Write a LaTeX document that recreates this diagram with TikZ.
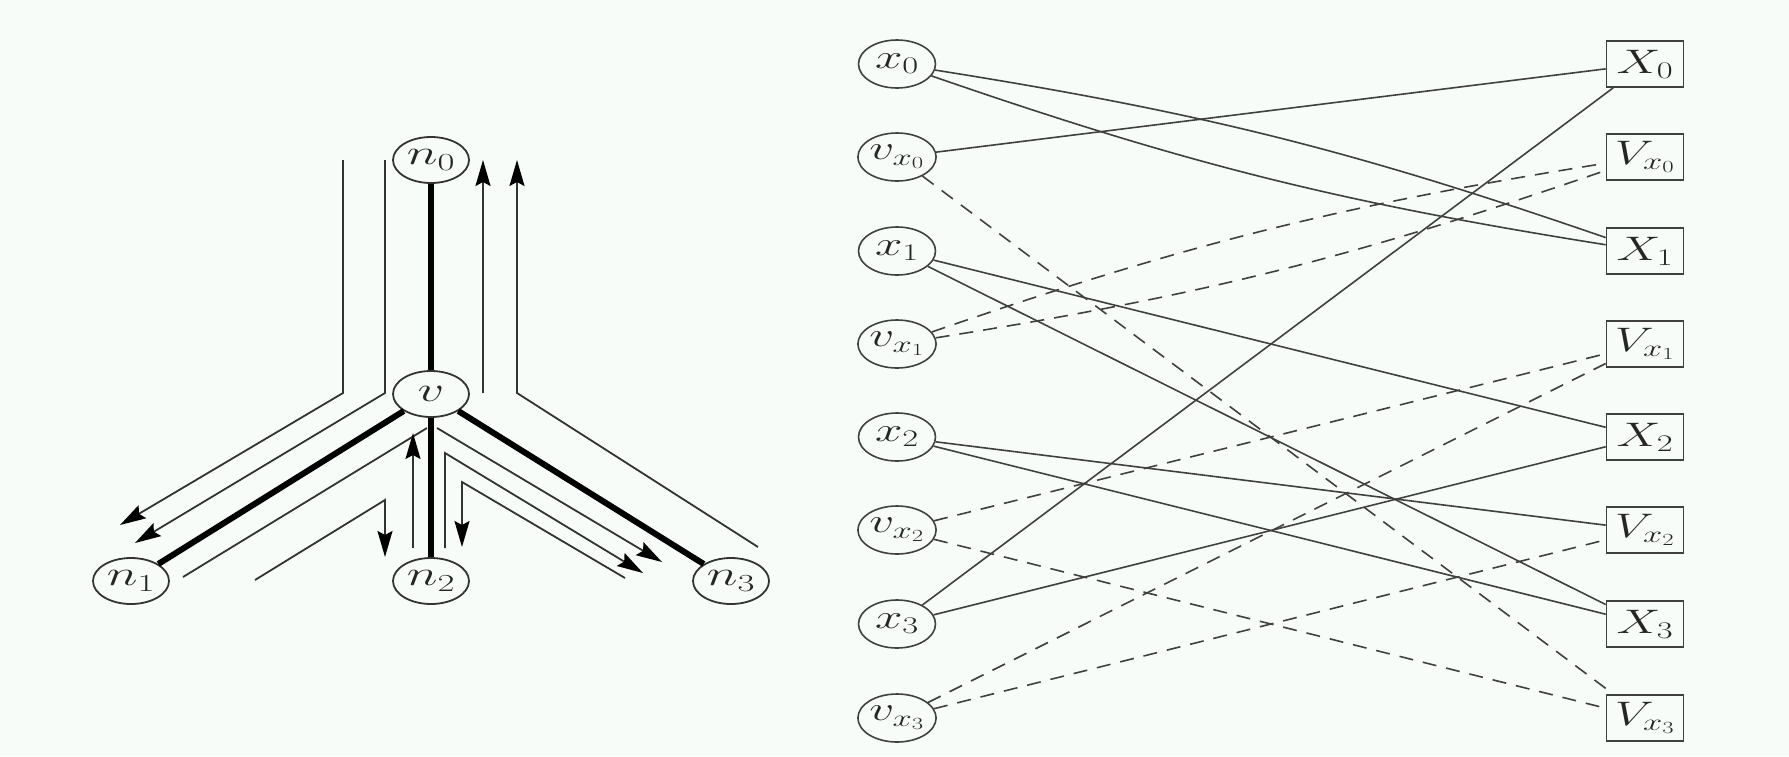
\RequirePackage{fix-cm}
\documentclass[tikz,border=0pt]{standalone}
\usepackage{graphicx}
\usetikzlibrary{arrows.meta,shapes.geometric}
\definecolor{bgc}{RGB}{248,252,248}
\newcommand\rlab[1]{\scalebox{1.45}[1]{$#1$}}
\newcommand\llab[1]{\scalebox{1.5}[1]{$#1$}}
\begin{document}
\begin{tikzpicture}[x=1pt,y=-1pt,
  every node/.style={font=\fontsize{34}{40}\selectfont, text=black!85},
  tnode/.style={ellipse, draw=black!80, line width=1.8pt, minimum width=76pt, minimum height=46pt, inner sep=0pt, font=\fontsize{35}{42}\selectfont},
  enode/.style={ellipse, draw=black!75, line width=1.6pt, minimum width=77pt, minimum height=48pt, inner sep=0pt},
  bnode/.style={rectangle, draw=black!75, line width=1.6pt, minimum width=77pt, minimum height=46pt, inner sep=0pt},
  tree/.style={line width=6pt, line cap=butt},
  walk/.style={line width=1.8pt, draw=black!80},
  walkarrow/.style={walk, -{Stealth[length=26pt,width=15pt,inset=4pt,color=black]}},
  sol/.style={line width=1.6pt, draw=black!75},
  dsh/.style={sol, dash pattern=on 14pt off 10pt},
]
\fill[bgc] (0,0) rectangle (1789,756);
\useasboundingbox (0,0) rectangle (1789,756);

% ---------- left: tree ----------
\node[tnode] (n0) at (431,160) {\llab{n_0}};
\node[tnode] (v)  at (431,394) {\llab{v}};
\node[tnode] (n1) at (131,581) {\llab{n_1}};
\node[tnode] (n2) at (431,581) {\llab{n_2}};
\node[tnode] (n3) at (731,581) {\llab{n_3}};

\draw[tree] (n0) -- (v);
\draw[tree] (v) -- (n1);
\draw[tree] (v) -- (n2);
\draw[tree] (v) -- (n3);

% walk coordinates
\coordinate (a1) at (343,160); \coordinate (a2) at (343,393); \coordinate (a3) at (120,525);
\coordinate (b1) at (385,160); \coordinate (b2) at (385,393); \coordinate (b3) at (135,543);
\coordinate (c1) at (483,393); \coordinate (c2) at (483,160);
\coordinate (d1) at (758,547); \coordinate (d2) at (517,393); \coordinate (d3) at (517,160);
\coordinate (e1) at (437,428); \coordinate (e2) at (662,562);
\coordinate (f1) at (445,548); \coordinate (f2) at (445,453); \coordinate (f3) at (643,573);
\coordinate (g1) at (625,578); \coordinate (g2) at (462,482); \coordinate (g3) at (462,547);
\coordinate (h1) at (183,577); \coordinate (h2) at (427,428);
\coordinate (i1) at (413,548); \coordinate (i2) at (413,433);
\coordinate (j1) at (255,580); \coordinate (j2) at (385,500); \coordinate (j3) at (385,557);

\draw[walkarrow] (a1) -- (a2) -- (a3);
\draw[walkarrow] (b1) -- (b2) -- (b3);
\draw[walkarrow] (c1) -- (c2);
\draw[walkarrow] (d1) -- (d2) -- (d3);
\draw[walkarrow] (e1) -- (e2);
\draw[walkarrow] (f1) -- (f2) -- (f3);
\draw[walkarrow] (g1) -- (g2) -- (g3);
\draw[walk] (h1) -- (h2);
\draw[walkarrow] (i1) -- (i2);
\draw[walkarrow] (j1) -- (j2) -- (j3);

% ---------- right: bipartite ----------
\node[enode] (x0)  at (897,64)  {\rlab{x_0}};
\node[enode] (vx0) at (897,157) {\rlab{v_{x_0}}};
\node[enode] (x1)  at (897,251) {\rlab{x_1}};
\node[enode] (vx1) at (897,344) {\rlab{v_{x_1}}};
\node[enode] (x2)  at (897,437) {\rlab{x_2}};
\node[enode] (vx2) at (897,530) {\rlab{v_{x_2}}};
\node[enode] (x3)  at (897,624) {\rlab{x_3}};
\node[enode] (vx3) at (897,718) {\rlab{v_{x_3}}};

\node[bnode] (X0)  at (1645,64)  {\rlab{X_0}};
\node[bnode] (Vx0) at (1645,157) {\rlab{V_{x_0}}};
\node[bnode] (X1)  at (1645,251) {\rlab{X_1}};
\node[bnode] (Vx1) at (1645,344) {\rlab{V_{x_1}}};
\node[bnode] (X2)  at (1645,437) {\rlab{X_2}};
\node[bnode] (Vx2) at (1645,530) {\rlab{V_{x_2}}};
\node[bnode] (X3)  at (1645,624) {\rlab{X_3}};
\node[bnode] (Vx3) at (1645,718) {\rlab{V_{x_3}}};

\draw[sol] (vx0) -- (X0);
\draw[sol] (x3) -- (X0);
\draw[sol] (x0) to[bend left=5] (X1);
\draw[sol] (x0) to[bend right=5] (X1);
\draw[sol] (x1) -- (X2);
\draw[sol] (x3) -- (X2);
\draw[sol] (x2) -- (Vx2);
\draw[sol] (x1) -- (X3);
\draw[sol] (x2) -- (X3);

\draw[dsh] (vx0) -- (Vx3);
\draw[dsh] (vx1) to[bend left=5] (Vx0);
\draw[dsh] (vx1) to[bend right=5] (Vx0);
\draw[dsh] (vx2) -- (Vx1);
\draw[dsh] (vx3) -- (Vx1);
\draw[dsh] (vx3) -- (Vx2);
\draw[dsh] (vx2) -- (Vx3);
\end{tikzpicture}
\end{document}
